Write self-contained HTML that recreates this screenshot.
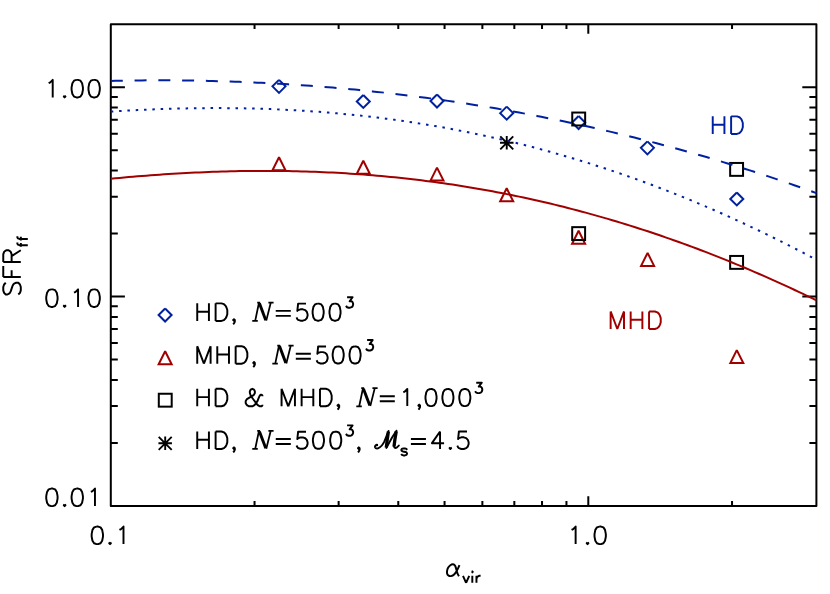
<!DOCTYPE html>
<html><head><meta charset="utf-8"><title>SFR vs alpha_vir</title>
<style>html,body{margin:0;padding:0;background:#fff;font-family:"Liberation Sans",sans-serif;}svg{display:block}</style>
</head><body>
<svg width="830" height="594" viewBox="0 0 830 594">
<rect width="830" height="594" fill="#fff"/>
<rect x="110.80" y="24.20" width="705.60" height="481.70" fill="none" stroke="#000" stroke-width="2" stroke-linejoin="round"/>
<path d="M254.54 505.90 V501.10 M254.54 24.20 V29.00 M338.63 505.90 V501.10 M338.63 24.20 V29.00 M398.28 505.90 V501.10 M398.28 24.20 V29.00 M444.56 505.90 V501.10 M444.56 24.20 V29.00 M482.37 505.90 V501.10 M482.37 24.20 V29.00 M514.33 505.90 V501.10 M514.33 24.20 V29.00 M542.03 505.90 V501.10 M542.03 24.20 V29.00 M566.45 505.90 V501.10 M566.45 24.20 V29.00 M588.30 505.90 V496.30 M588.30 24.20 V33.80 M732.04 505.90 V501.10 M732.04 24.20 V29.00 M110.80 442.89 H117.80 M816.40 442.89 H809.40 M110.80 406.04 H117.80 M816.40 406.04 H809.40 M110.80 379.89 H117.80 M816.40 379.89 H809.40 M110.80 359.61 H117.80 M816.40 359.61 H809.40 M110.80 343.03 H117.80 M816.40 343.03 H809.40 M110.80 329.02 H117.80 M816.40 329.02 H809.40 M110.80 316.88 H117.80 M816.40 316.88 H809.40 M110.80 306.18 H117.80 M816.40 306.18 H809.40 M110.80 296.60 H124.90 M816.40 296.60 H802.30 M110.80 233.59 H117.80 M816.40 233.59 H809.40 M110.80 196.74 H117.80 M816.40 196.74 H809.40 M110.80 170.59 H117.80 M816.40 170.59 H809.40 M110.80 150.31 H117.80 M816.40 150.31 H809.40 M110.80 133.73 H117.80 M816.40 133.73 H809.40 M110.80 119.72 H117.80 M816.40 119.72 H809.40 M110.80 107.58 H117.80 M816.40 107.58 H809.40 M110.80 96.88 H117.80 M816.40 96.88 H809.40 M110.80 87.30 H124.90 M816.40 87.30 H802.30" fill="none" stroke="#000" stroke-width="2"/>
<path d="M272.50 170.30 L279.00 157.30 L285.50 170.30 Z" fill="none" stroke="#a00000" stroke-width="2" stroke-linejoin="miter" stroke-miterlimit="2"/>
<path d="M356.80 173.70 L363.30 160.70 L369.80 173.70 Z" fill="none" stroke="#a00000" stroke-width="2" stroke-linejoin="miter" stroke-miterlimit="2"/>
<path d="M430.50 180.60 L437.00 167.60 L443.50 180.60 Z" fill="none" stroke="#a00000" stroke-width="2" stroke-linejoin="miter" stroke-miterlimit="2"/>
<path d="M500.20 201.30 L506.70 188.30 L513.20 201.30 Z" fill="none" stroke="#a00000" stroke-width="2" stroke-linejoin="miter" stroke-miterlimit="2"/>
<path d="M572.10 243.70 L578.60 230.70 L585.10 243.70 Z" fill="none" stroke="#a00000" stroke-width="2" stroke-linejoin="miter" stroke-miterlimit="2"/>
<path d="M641.10 265.90 L647.60 252.90 L654.10 265.90 Z" fill="none" stroke="#a00000" stroke-width="2" stroke-linejoin="miter" stroke-miterlimit="2"/>
<path d="M730.30 363.10 L736.80 350.10 L743.30 363.10 Z" fill="none" stroke="#a00000" stroke-width="2" stroke-linejoin="miter" stroke-miterlimit="2"/>
<path d="M279.00 79.85 L285.50 86.35 L279.00 92.85 L272.50 86.35 L279.00 79.85" fill="none" stroke="#0020a0" stroke-width="2" stroke-linejoin="miter"/>
<path d="M363.30 94.95 L369.80 101.45 L363.30 107.95 L356.80 101.45 L363.30 94.95" fill="none" stroke="#0020a0" stroke-width="2" stroke-linejoin="miter"/>
<path d="M437.00 94.55 L443.50 101.05 L437.00 107.55 L430.50 101.05 L437.00 94.55" fill="none" stroke="#0020a0" stroke-width="2" stroke-linejoin="miter"/>
<path d="M506.70 106.65 L513.20 113.15 L506.70 119.65 L500.20 113.15 L506.70 106.65" fill="none" stroke="#0020a0" stroke-width="2" stroke-linejoin="miter"/>
<path d="M578.60 116.05 L585.10 122.55 L578.60 129.05 L572.10 122.55 L578.60 116.05" fill="none" stroke="#0020a0" stroke-width="2" stroke-linejoin="miter"/>
<path d="M647.40 141.35 L653.90 147.85 L647.40 154.35 L640.90 147.85 L647.40 141.35" fill="none" stroke="#0020a0" stroke-width="2" stroke-linejoin="miter"/>
<path d="M736.80 192.45 L743.30 198.95 L736.80 205.45 L730.30 198.95 L736.80 192.45" fill="none" stroke="#0020a0" stroke-width="2" stroke-linejoin="miter"/>
<rect x="572.25" y="112.55" width="12.90" height="12.90" fill="none" stroke="#000" stroke-width="2"/>
<rect x="730.15" y="162.95" width="12.90" height="12.90" fill="none" stroke="#000" stroke-width="2"/>
<rect x="572.20" y="227.15" width="12.90" height="12.90" fill="none" stroke="#000" stroke-width="2"/>
<rect x="730.15" y="255.95" width="12.90" height="12.90" fill="none" stroke="#000" stroke-width="2"/>
<path d="M500.00 142.80 H513.50 M506.75 136.05 V149.55 M500.25 136.30 L513.25 149.30 M500.25 149.30 L513.25 136.30" fill="none" stroke="#000" stroke-width="1.9"/>
<path d="M110.80 80.89 L115.24 80.79 L119.68 80.70 L124.11 80.62 L128.55 80.56 L132.99 80.50 L137.43 80.45 L141.86 80.40 L146.30 80.37 L150.74 80.35 L155.18 80.34 L159.62 80.33 L164.05 80.34 L168.49 80.35 L172.93 80.37 L177.37 80.41 L181.80 80.45 L186.24 80.50 L190.68 80.56 L195.12 80.63 L199.55 80.72 L203.99 80.80 L208.43 80.90 L212.87 81.01 L217.31 81.13 L221.74 81.26 L226.18 81.40 L230.62 81.54 L235.06 81.70 L239.49 81.87 L243.93 82.04 L248.37 82.23 L252.81 82.42 L257.25 82.63 L261.68 82.84 L266.12 83.07 L270.56 83.30 L275.00 83.54 L279.43 83.80 L283.87 84.06 L288.31 84.33 L292.75 84.62 L297.18 84.91 L301.62 85.21 L306.06 85.53 L310.50 85.85 L314.94 86.18 L319.37 86.52 L323.81 86.88 L328.25 87.24 L332.69 87.61 L337.12 87.99 L341.56 88.38 L346.00 88.79 L350.44 89.20 L354.88 89.62 L359.31 90.06 L363.75 90.50 L368.19 90.95 L372.63 91.41 L377.06 91.89 L381.50 92.37 L385.94 92.87 L390.38 93.37 L394.82 93.88 L399.25 94.41 L403.69 94.94 L408.13 95.49 L412.57 96.04 L417.00 96.61 L421.44 97.19 L425.88 97.77 L430.32 98.37 L434.75 98.98 L439.19 99.60 L443.63 100.23 L448.07 100.87 L452.51 101.52 L456.94 102.18 L461.38 102.85 L465.82 103.53 L470.26 104.22 L474.69 104.93 L479.13 105.64 L483.57 106.36 L488.01 107.10 L492.45 107.85 L496.88 108.60 L501.32 109.37 L505.76 110.15 L510.20 110.94 L514.63 111.74 L519.07 112.55 L523.51 113.37 L527.95 114.21 L532.38 115.05 L536.82 115.91 L541.26 116.77 L545.70 117.65 L550.14 118.54 L554.57 119.44 L559.01 120.35 L563.45 121.27 L567.89 122.20 L572.32 123.15 L576.76 124.10 L581.20 125.07 L585.64 126.05 L590.08 127.03 L594.51 128.03 L598.95 129.05 L603.39 130.07 L607.83 131.10 L612.26 132.15 L616.70 133.21 L621.14 134.28 L625.58 135.36 L630.02 136.45 L634.45 137.55 L638.89 138.67 L643.33 139.80 L647.77 140.93 L652.20 142.08 L656.64 143.25 L661.08 144.42 L665.52 145.60 L669.95 146.80 L674.39 148.01 L678.83 149.23 L683.27 150.46 L687.71 151.71 L692.14 152.96 L696.58 154.23 L701.02 155.51 L705.46 156.80 L709.89 158.11 L714.33 159.43 L718.77 160.75 L723.21 162.09 L727.65 163.45 L732.08 164.81 L736.52 166.19 L740.96 167.58 L745.40 168.98 L749.83 170.39 L754.27 171.82 L758.71 173.26 L763.15 174.71 L767.58 176.17 L772.02 177.65 L776.46 179.14 L780.90 180.64 L785.34 182.15 L789.77 183.67 L794.21 185.21 L798.65 186.76 L803.09 188.33 L807.52 189.90 L811.96 191.49 L816.40 193.09" fill="none" stroke="#0020a0" stroke-width="2.00" stroke-dasharray="12 11.77"/>
<path d="M110.80 111.60 L115.24 111.32 L119.68 111.05 L124.11 110.79 L128.55 110.55 L132.99 110.31 L137.43 110.09 L141.86 109.87 L146.30 109.67 L150.74 109.48 L155.18 109.30 L159.62 109.13 L164.05 108.98 L168.49 108.84 L172.93 108.70 L177.37 108.59 L181.80 108.48 L186.24 108.39 L190.68 108.30 L195.12 108.24 L199.55 108.18 L203.99 108.14 L208.43 108.11 L212.87 108.09 L217.31 108.09 L221.74 108.10 L226.18 108.12 L230.62 108.15 L235.06 108.20 L239.49 108.27 L243.93 108.35 L248.37 108.44 L252.81 108.54 L257.25 108.66 L261.68 108.80 L266.12 108.94 L270.56 109.11 L275.00 109.28 L279.43 109.48 L283.87 109.68 L288.31 109.90 L292.75 110.14 L297.18 110.39 L301.62 110.66 L306.06 110.94 L310.50 111.23 L314.94 111.54 L319.37 111.87 L323.81 112.21 L328.25 112.57 L332.69 112.94 L337.12 113.33 L341.56 113.74 L346.00 114.16 L350.44 114.60 L354.88 115.05 L359.31 115.52 L363.75 116.00 L368.19 116.50 L372.63 117.02 L377.06 117.55 L381.50 118.11 L385.94 118.67 L390.38 119.26 L394.82 119.86 L399.25 120.47 L403.69 121.11 L408.13 121.76 L412.57 122.42 L417.00 123.11 L421.44 123.81 L425.88 124.53 L430.32 125.26 L434.75 126.02 L439.19 126.79 L443.63 127.57 L448.07 128.38 L452.51 129.20 L456.94 130.04 L461.38 130.90 L465.82 131.77 L470.26 132.67 L474.69 133.58 L479.13 134.51 L483.57 135.45 L488.01 136.42 L492.45 137.40 L496.88 138.40 L501.32 139.42 L505.76 140.45 L510.20 141.51 L514.63 142.58 L519.07 143.67 L523.51 144.78 L527.95 145.91 L532.38 147.06 L536.82 148.22 L541.26 149.40 L545.70 150.60 L550.14 151.82 L554.57 153.06 L559.01 154.32 L563.45 155.59 L567.89 156.89 L572.32 158.20 L576.76 159.53 L581.20 160.88 L585.64 162.25 L590.08 163.64 L594.51 165.04 L598.95 166.47 L603.39 167.91 L607.83 169.38 L612.26 170.86 L616.70 172.36 L621.14 173.88 L625.58 175.42 L630.02 176.98 L634.45 178.56 L638.89 180.15 L643.33 181.77 L647.77 183.40 L652.20 185.06 L656.64 186.73 L661.08 188.42 L665.52 190.13 L669.95 191.86 L674.39 193.61 L678.83 195.38 L683.27 197.17 L687.71 198.97 L692.14 200.80 L696.58 202.65 L701.02 204.51 L705.46 206.40 L709.89 208.30 L714.33 210.22 L718.77 212.16 L723.21 214.13 L727.65 216.11 L732.08 218.11 L736.52 220.12 L740.96 222.16 L745.40 224.22 L749.83 226.30 L754.27 228.39 L758.71 230.51 L763.15 232.64 L767.58 234.80 L772.02 236.97 L776.46 239.16 L780.90 241.37 L785.34 243.61 L789.77 245.86 L794.21 248.13 L798.65 250.41 L803.09 252.72 L807.52 255.05 L811.96 257.39 L816.40 259.76" fill="none" stroke="#0020a0" stroke-width="2.00" stroke-dasharray="2.5 5.82"/>
<path d="M110.80 178.73 L115.24 178.31 L119.68 177.89 L124.11 177.49 L128.55 177.10 L132.99 176.71 L137.43 176.34 L141.86 175.98 L146.30 175.64 L150.74 175.30 L155.18 174.97 L159.62 174.66 L164.05 174.36 L168.49 174.07 L172.93 173.79 L177.37 173.52 L181.80 173.27 L186.24 173.03 L190.68 172.80 L195.12 172.58 L199.55 172.38 L203.99 172.19 L208.43 172.01 L212.87 171.84 L217.31 171.69 L221.74 171.55 L226.18 171.42 L230.62 171.31 L235.06 171.21 L239.49 171.12 L243.93 171.05 L248.37 170.99 L252.81 170.94 L257.25 170.91 L261.68 170.90 L266.12 170.89 L270.56 170.90 L275.00 170.93 L279.43 170.97 L283.87 171.02 L288.31 171.09 L292.75 171.18 L297.18 171.27 L301.62 171.39 L306.06 171.51 L310.50 171.66 L314.94 171.82 L319.37 171.99 L323.81 172.18 L328.25 172.38 L332.69 172.60 L337.12 172.83 L341.56 173.08 L346.00 173.35 L350.44 173.63 L354.88 173.93 L359.31 174.24 L363.75 174.57 L368.19 174.92 L372.63 175.28 L377.06 175.65 L381.50 176.05 L385.94 176.46 L390.38 176.88 L394.82 177.32 L399.25 177.78 L403.69 178.26 L408.13 178.75 L412.57 179.26 L417.00 179.79 L421.44 180.33 L425.88 180.89 L430.32 181.46 L434.75 182.06 L439.19 182.67 L443.63 183.29 L448.07 183.94 L452.51 184.60 L456.94 185.28 L461.38 185.97 L465.82 186.68 L470.26 187.42 L474.69 188.16 L479.13 188.93 L483.57 189.71 L488.01 190.51 L492.45 191.33 L496.88 192.17 L501.32 193.02 L505.76 193.89 L510.20 194.78 L514.63 195.69 L519.07 196.61 L523.51 197.55 L527.95 198.51 L532.38 199.49 L536.82 200.49 L541.26 201.50 L545.70 202.53 L550.14 203.58 L554.57 204.65 L559.01 205.74 L563.45 206.84 L567.89 207.97 L572.32 209.11 L576.76 210.27 L581.20 211.45 L585.64 212.64 L590.08 213.86 L594.51 215.09 L598.95 216.34 L603.39 217.61 L607.83 218.90 L612.26 220.21 L616.70 221.53 L621.14 222.87 L625.58 224.24 L630.02 225.62 L634.45 227.02 L638.89 228.43 L643.33 229.87 L647.77 231.32 L652.20 232.80 L656.64 234.29 L661.08 235.80 L665.52 237.33 L669.95 238.87 L674.39 240.44 L678.83 242.02 L683.27 243.63 L687.71 245.25 L692.14 246.89 L696.58 248.55 L701.02 250.23 L705.46 251.92 L709.89 253.64 L714.33 255.37 L718.77 257.12 L723.21 258.89 L727.65 260.68 L732.08 262.49 L736.52 264.31 L740.96 266.16 L745.40 268.02 L749.83 269.90 L754.27 271.80 L758.71 273.72 L763.15 275.66 L767.58 277.61 L772.02 279.59 L776.46 281.58 L780.90 283.59 L785.34 285.62 L789.77 287.67 L794.21 289.73 L798.65 291.82 L803.09 293.92 L807.52 296.04 L811.96 298.18 L816.40 300.34" fill="none" stroke="#a00000" stroke-width="2.00"/>
<path d="M165.10 308.55 L171.60 315.05 L165.10 321.55 L158.60 315.05 L165.10 308.55" fill="none" stroke="#0020a0" stroke-width="2" stroke-linejoin="miter"/>
<path d="M158.65 364.25 L165.15 351.25 L171.65 364.25 Z" fill="none" stroke="#a00000" stroke-width="2" stroke-linejoin="miter" stroke-miterlimit="2"/>
<rect x="158.80" y="393.75" width="12.90" height="12.90" fill="none" stroke="#000" stroke-width="2"/>
<path d="M158.45 443.30 H171.95 M165.20 436.55 V450.05 M158.70 436.80 L171.70 449.80 M158.70 449.80 L171.70 436.80" fill="none" stroke="#000" stroke-width="1.9"/>
<path d="M48.66 83.21 L50.28 82.37 L52.71 79.87 L52.71 97.40 M64.62 95.73 L63.79 96.57 L64.62 97.40 L65.46 96.57 L64.62 95.73 M76.44 79.87 L74.01 80.70 L72.39 83.21 L71.58 87.38 L71.58 89.89 L72.39 94.06 L74.01 96.57 L76.44 97.40 L78.06 97.40 L80.49 96.57 L82.11 94.06 L82.92 89.89 L82.92 87.38 L82.11 83.21 L80.49 80.70 L78.06 79.87 L76.44 79.87 M93.34 79.87 L90.91 80.70 L89.29 83.21 L88.48 87.38 L88.48 89.89 L89.29 94.06 L90.91 96.57 L93.34 97.40 L94.96 97.40 L97.39 96.57 L99.01 94.06 L99.82 89.89 L99.82 87.38 L99.01 83.21 L97.39 80.70 L94.96 79.87 L93.34 79.87" fill="none" stroke="#000" stroke-width="1.95" stroke-linecap="butt" stroke-linejoin="round"/>
<path d="M51.09 289.36 L48.66 290.20 L47.04 292.70 L46.23 296.88 L46.23 299.38 L47.04 303.56 L48.66 306.06 L51.09 306.90 L52.71 306.90 L55.14 306.06 L56.76 303.56 L57.57 299.38 L57.57 296.88 L56.76 292.70 L55.14 290.20 L52.71 289.36 L51.09 289.36 M64.62 305.23 L63.79 306.06 L64.62 306.90 L65.46 306.06 L64.62 305.23 M74.01 292.70 L75.63 291.87 L78.06 289.36 L78.06 306.90 M93.34 289.36 L90.91 290.20 L89.29 292.70 L88.48 296.88 L88.48 299.38 L89.29 303.56 L90.91 306.06 L93.34 306.90 L94.96 306.90 L97.39 306.06 L99.01 303.56 L99.82 299.38 L99.82 296.88 L99.01 292.70 L97.39 290.20 L94.96 289.36 L93.34 289.36" fill="none" stroke="#000" stroke-width="1.95" stroke-linecap="butt" stroke-linejoin="round"/>
<path d="M51.09 488.56 L48.66 489.40 L47.04 491.91 L46.23 496.08 L46.23 498.59 L47.04 502.76 L48.66 505.27 L51.09 506.10 L52.71 506.10 L55.14 505.27 L56.76 502.76 L57.57 498.59 L57.57 496.08 L56.76 491.91 L55.14 489.40 L52.71 488.56 L51.09 488.56 M64.62 504.43 L63.79 505.27 L64.62 506.10 L65.46 505.27 L64.62 504.43 M76.44 488.56 L74.01 489.40 L72.39 491.91 L71.58 496.08 L71.58 498.59 L72.39 502.76 L74.01 505.27 L76.44 506.10 L78.06 506.10 L80.49 505.27 L82.11 502.76 L82.92 498.59 L82.92 496.08 L82.11 491.91 L80.49 489.40 L78.06 488.56 L76.44 488.56 M90.91 491.91 L92.53 491.07 L94.96 488.56 L94.96 506.10" fill="none" stroke="#000" stroke-width="1.95" stroke-linecap="butt" stroke-linejoin="round"/>
<path d="M96.51 526.57 L94.08 527.40 L92.46 529.90 L91.65 534.08 L91.65 536.59 L92.46 540.76 L94.08 543.26 L96.51 544.10 L98.13 544.10 L100.56 543.26 L102.18 540.76 L102.99 536.59 L102.99 534.08 L102.18 529.90 L100.56 527.40 L98.13 526.57 L96.51 526.57 M110.05 542.43 L109.21 543.26 L110.05 544.10 L110.88 543.26 L110.05 542.43 M119.44 529.90 L121.06 529.07 L123.49 526.57 L123.49 544.10" fill="none" stroke="#000" stroke-width="1.95" stroke-linecap="butt" stroke-linejoin="round"/>
<path d="M571.58 529.90 L573.20 529.07 L575.63 526.57 L575.63 544.10 M587.55 542.43 L586.71 543.26 L587.55 544.10 L588.38 543.26 L587.55 542.43 M599.37 526.57 L596.94 527.40 L595.32 529.90 L594.51 534.08 L594.51 536.59 L595.32 540.76 L596.94 543.26 L599.37 544.10 L600.99 544.10 L603.41 543.26 L605.03 540.76 L605.84 536.59 L605.84 534.08 L605.03 529.90 L603.41 527.40 L600.99 526.57 L599.37 526.57" fill="none" stroke="#000" stroke-width="1.95" stroke-linecap="butt" stroke-linejoin="round"/>
<path d="M459.46 565.09 Q458.19 568.12 457.44 569.64 Q456.68 571.16 455.66 572.67 Q454.65 574.19 453.38 575.08 Q452.12 575.97 450.86 576.10 Q449.59 576.22 448.58 575.59 Q447.57 574.95 447.19 573.82 Q446.81 572.68 447.06 570.90 Q447.31 569.13 448.20 567.62 Q449.09 566.10 450.36 565.22 Q451.62 564.33 452.75 564.33 Q453.89 564.33 454.65 565.22 Q455.41 566.10 455.92 567.87 Q456.42 569.64 456.93 571.66 Q457.44 573.69 458.95 576.22" fill="none" stroke="#000" stroke-width="1.95" stroke-linejoin="round"/>
<path d="M463.00 575.84 L466.10 582.80 M469.21 575.84 L466.10 582.80 M471.80 571.87 L472.31 572.36 L472.83 571.87 L472.31 571.37 L471.80 571.87 M472.31 575.84 L472.31 582.80 M476.46 575.84 L476.46 582.80 M476.46 578.82 L476.97 577.33 L478.01 576.34 L479.04 575.84 L480.60 575.84" fill="none" stroke="#000" stroke-width="1.95" stroke-linecap="butt" stroke-linejoin="round"/>
<g transform="translate(20.8 297.00) rotate(-90)"><path d="M14.20 -15.03 L12.52 -16.70 L10.02 -17.54 L6.68 -17.54 L4.17 -16.70 L2.50 -15.03 L2.50 -13.36 L3.34 -11.69 L4.17 -10.86 L5.84 -10.02 L10.86 -8.35 L12.52 -7.51 L13.36 -6.68 L14.20 -5.01 L14.20 -2.50 L12.52 -0.83 L10.02 0.00 L6.68 0.00 L4.17 -0.83 L2.50 -2.50 M20.04 -17.54 L20.04 0.00 M20.04 -17.54 L30.89 -17.54 M20.04 -9.18 L26.72 -9.18 M35.07 -17.54 L35.07 0.00 M35.07 -17.54 L42.58 -17.54 L45.09 -16.70 L45.92 -15.86 L46.76 -14.20 L46.76 -12.52 L45.92 -10.86 L45.09 -10.02 L42.58 -9.18 L35.07 -9.18 M40.91 -9.18 L46.76 0.00 M54.44 -3.44 L53.41 -3.44 L52.37 -2.94 L51.85 -1.45 L51.85 7.00 M50.30 0.04 L53.92 0.04 M60.65 -3.44 L59.62 -3.44 L58.58 -2.94 L58.07 -1.45 L58.07 7.00 M56.51 0.04 L60.14 0.04" fill="none" stroke="#000" stroke-width="1.95" stroke-linecap="butt" stroke-linejoin="round"/></g>
<path d="M712.74 116.37 L712.74 133.90 M724.43 116.37 L724.43 133.90 M712.74 124.72 L724.43 124.72 M731.11 116.37 L731.11 133.90 M731.11 116.37 L736.95 116.37 L739.46 117.20 L741.13 118.87 L741.97 120.54 L742.80 123.05 L742.80 127.22 L741.97 129.72 L741.13 131.40 L739.46 133.06 L736.95 133.90 L731.11 133.90" fill="none" stroke="#0020a0" stroke-width="1.95" stroke-linecap="butt" stroke-linejoin="round"/>
<path d="M610.64 311.46 L610.64 329.00 M610.64 311.46 L617.32 329.00 M624.00 311.46 L617.32 329.00 M624.00 311.46 L624.00 329.00 M630.68 311.46 L630.68 329.00 M642.37 311.46 L642.37 329.00 M630.68 319.81 L642.37 319.81 M649.05 311.46 L649.05 329.00 M649.05 311.46 L654.89 311.46 L657.40 312.30 L659.07 313.97 L659.90 315.64 L660.74 318.14 L660.74 322.32 L659.90 324.82 L659.07 326.50 L657.40 328.17 L654.89 329.00 L649.05 329.00" fill="none" stroke="#a00000" stroke-width="1.95" stroke-linecap="butt" stroke-linejoin="round"/>
<path d="M197.24 303.36 L197.24 320.90 M208.93 303.36 L208.93 320.90 M197.24 311.71 L208.93 311.71 M215.61 303.36 L215.61 320.90 M215.61 303.36 L221.46 303.36 L223.96 304.20 L225.63 305.87 L226.47 307.54 L227.30 310.04 L227.30 314.22 L226.47 316.72 L225.63 318.39 L223.96 320.06 L221.46 320.90 L215.61 320.90 M234.81 320.06 L233.98 320.90 L233.15 320.06 L233.98 319.23 L234.81 320.06 L234.81 321.73 L233.98 323.40 L233.15 324.24" fill="none" stroke="#000" stroke-width="1.95" stroke-linecap="butt" stroke-linejoin="round"/>
<path d="M252.26 320.88 L257.79 320.88 M255.19 320.88 L258.96 302.72 M257.21 302.72 L260.12 302.72 M266.27 320.64 L270.75 302.72 M268.39 302.72 L273.58 302.72" fill="none" stroke="#000" stroke-width="1.75"/><path d="M259.42 303.30 L265.76 320.20" fill="none" stroke="#000" stroke-width="2.9"/>
<path d="M275.75 310.88 L290.79 310.88 M275.75 315.89 L290.79 315.89 M306.01 303.60 L298.12 303.60 L297.33 310.93 L298.12 310.12 L300.49 309.30 L302.86 309.30 L305.23 310.12 L306.80 311.74 L307.59 314.19 L307.59 315.82 L306.80 318.26 L305.23 319.89 L302.86 320.70 L300.49 320.70 L298.12 319.89 L297.33 319.07 L296.54 317.44 M317.35 303.60 L314.99 304.42 L313.41 306.86 L312.62 310.93 L312.62 313.37 L313.41 317.44 L314.99 319.89 L317.35 320.70 L318.93 320.70 L321.30 319.89 L322.88 317.44 L323.67 313.37 L323.67 310.93 L322.88 306.86 L321.30 304.42 L318.93 303.60 L317.35 303.60 M334.23 303.60 L331.86 304.42 L330.28 306.86 L329.49 310.93 L329.49 313.37 L330.28 317.44 L331.86 319.89 L334.23 320.70 L335.81 320.70 L338.18 319.89 L339.76 317.44 L340.55 313.37 L340.55 310.93 L339.76 306.86 L338.18 304.42 L335.81 303.60 L334.23 303.60 M347.08 297.26 L352.61 297.26 L349.60 301.24 L351.10 301.24 L352.11 301.74 L352.61 302.23 L353.11 303.72 L353.11 304.72 L352.61 306.21 L351.60 307.20 L350.10 307.70 L348.59 307.70 L347.08 307.20 L346.58 306.71 L346.08 305.71" fill="none" stroke="#000" stroke-width="1.95" stroke-linecap="butt" stroke-linejoin="round"/>
<path d="M197.24 346.16 L197.24 363.70 M197.24 346.16 L203.92 363.70 M210.60 346.16 L203.92 363.70 M210.60 346.16 L210.60 363.70 M217.28 346.16 L217.28 363.70 M228.97 346.16 L228.97 363.70 M217.28 354.51 L228.97 354.51 M235.65 346.16 L235.65 363.70 M235.65 346.16 L241.50 346.16 L244.00 347.00 L245.67 348.67 L246.50 350.34 L247.34 352.84 L247.34 357.02 L246.50 359.52 L245.67 361.19 L244.00 362.87 L241.50 363.70 L235.65 363.70 M254.85 362.87 L254.02 363.70 L253.19 362.87 L254.02 362.03 L254.85 362.87 L254.85 364.53 L254.02 366.20 L253.19 367.04" fill="none" stroke="#000" stroke-width="1.95" stroke-linecap="butt" stroke-linejoin="round"/>
<path d="M272.31 363.68 L277.83 363.68 M275.24 363.68 L279.00 345.52 M277.25 345.52 L280.16 345.52 M286.31 363.44 L290.80 345.52 M288.44 345.52 L293.62 345.52" fill="none" stroke="#000" stroke-width="1.75"/><path d="M279.46 346.10 L285.81 363.00" fill="none" stroke="#000" stroke-width="2.9"/>
<path d="M295.80 353.68 L310.83 353.68 M295.80 358.69 L310.83 358.69 M326.05 346.40 L318.16 346.40 L317.37 353.73 L318.16 352.92 L320.53 352.10 L322.90 352.10 L325.27 352.92 L326.84 354.54 L327.63 356.99 L327.63 358.62 L326.84 361.06 L325.27 362.69 L322.90 363.50 L320.53 363.50 L318.16 362.69 L317.37 361.87 L316.58 360.24 M337.39 346.40 L335.03 347.22 L333.45 349.66 L332.66 353.73 L332.66 356.17 L333.45 360.24 L335.03 362.69 L337.39 363.50 L338.97 363.50 L341.34 362.69 L342.92 360.24 L343.71 356.17 L343.71 353.73 L342.92 349.66 L341.34 347.22 L338.97 346.40 L337.39 346.40 M354.27 346.40 L351.90 347.22 L350.32 349.66 L349.53 353.73 L349.53 356.17 L350.32 360.24 L351.90 362.69 L354.27 363.50 L355.85 363.50 L358.22 362.69 L359.80 360.24 L360.59 356.17 L360.59 353.73 L359.80 349.66 L358.22 347.22 L355.85 346.40 L354.27 346.40 M367.12 340.06 L372.65 340.06 L369.64 344.04 L371.14 344.04 L372.15 344.54 L372.65 345.03 L373.15 346.52 L373.15 347.52 L372.65 349.01 L371.64 350.00 L370.14 350.50 L368.63 350.50 L367.12 350.00 L366.62 349.51 L366.12 348.51" fill="none" stroke="#000" stroke-width="1.95" stroke-linecap="butt" stroke-linejoin="round"/>
<path d="M197.24 388.76 L197.24 406.30 M208.93 388.76 L208.93 406.30 M197.24 397.12 L208.93 397.12 M215.61 388.76 L215.61 406.30 M215.61 388.76 L221.46 388.76 L223.96 389.60 L225.63 391.27 L226.47 392.94 L227.30 395.44 L227.30 399.62 L226.47 402.12 L225.63 403.80 L223.96 405.47 L221.46 406.30 L215.61 406.30 M262.37 396.28 L262.37 395.44 L261.54 394.61 L260.70 394.61 L259.87 395.44 L259.03 397.12 L257.36 401.29 L255.69 403.80 L254.02 405.47 L252.35 406.30 L249.01 406.30 L247.34 405.47 L246.51 404.63 L245.67 402.96 L245.67 401.29 L246.51 399.62 L247.34 398.79 L253.19 395.44 L254.02 394.61 L254.86 392.94 L254.86 391.27 L254.02 389.60 L252.35 388.76 L250.68 389.60 L249.85 391.27 L249.85 392.94 L250.68 395.44 L252.35 397.95 L256.53 403.80 L258.19 405.47 L259.87 406.30 L261.54 406.30 L262.37 405.47 L262.37 404.63 M281.57 388.76 L281.57 406.30 M281.57 388.76 L288.25 406.30 M294.94 388.76 L288.25 406.30 M294.94 388.76 L294.94 406.30 M301.62 388.76 L301.62 406.30 M313.31 388.76 L313.31 406.30 M301.62 397.12 L313.31 397.12 M319.99 388.76 L319.99 406.30 M319.99 388.76 L325.83 388.76 L328.34 389.60 L330.01 391.27 L330.84 392.94 L331.68 395.44 L331.68 399.62 L330.84 402.12 L330.01 403.80 L328.34 405.47 L325.83 406.30 L319.99 406.30 M339.19 405.47 L338.36 406.30 L337.52 405.47 L338.36 404.63 L339.19 405.47 L339.19 407.13 L338.36 408.81 L337.52 409.64" fill="none" stroke="#000" stroke-width="1.95" stroke-linecap="butt" stroke-linejoin="round"/>
<path d="M356.29 406.28 L361.81 406.28 M359.22 406.28 L362.99 388.12 M361.24 388.12 L364.14 388.12 M370.30 406.04 L374.78 388.12 M372.42 388.12 L377.61 388.12" fill="none" stroke="#000" stroke-width="1.75"/><path d="M363.44 388.70 L369.79 405.60" fill="none" stroke="#000" stroke-width="2.9"/>
<path d="M379.78 396.28 L394.81 396.28 M379.78 401.29 L394.81 401.29 M403.33 392.26 L404.91 391.45 L407.28 389.00 L407.28 406.10 M420.04 405.47 L419.20 406.30 L418.37 405.47 L419.20 404.63 L420.04 405.47 L420.04 407.13 L419.20 408.81 L418.37 409.64 M430.23 389.00 L427.86 389.82 L426.28 392.26 L425.49 396.33 L425.49 398.77 L426.28 402.84 L427.86 405.29 L430.23 406.10 L431.81 406.10 L434.18 405.29 L435.76 402.84 L436.55 398.77 L436.55 396.33 L435.76 392.26 L434.18 389.82 L431.81 389.00 L430.23 389.00 M447.13 389.00 L444.76 389.82 L443.18 392.26 L442.39 396.33 L442.39 398.77 L443.18 402.84 L444.76 405.29 L447.13 406.10 L448.71 406.10 L451.08 405.29 L452.66 402.84 L453.44 398.77 L453.44 396.33 L452.66 392.26 L451.08 389.82 L448.71 389.00 L447.13 389.00 M464.03 389.00 L461.66 389.82 L460.08 392.26 L459.29 396.33 L459.29 398.77 L460.08 402.84 L461.66 405.29 L464.03 406.10 L465.60 406.10 L467.97 405.29 L469.55 402.84 L470.34 398.77 L470.34 396.33 L469.55 392.26 L467.97 389.82 L465.60 389.00 L464.03 389.00 M476.24 382.66 L481.76 382.66 L478.75 386.64 L480.26 386.64 L481.26 387.14 L481.76 387.63 L482.26 389.12 L482.26 390.12 L481.76 391.61 L480.76 392.60 L479.25 393.10 L477.74 393.10 L476.24 392.60 L475.74 392.11 L475.23 391.11" fill="none" stroke="#000" stroke-width="1.95" stroke-linecap="butt" stroke-linejoin="round"/>
<path d="M197.24 431.46 L197.24 449.00 M208.93 431.46 L208.93 449.00 M197.24 439.81 L208.93 439.81 M215.61 431.46 L215.61 449.00 M215.61 431.46 L221.46 431.46 L223.96 432.30 L225.63 433.97 L226.47 435.64 L227.30 438.14 L227.30 442.32 L226.47 444.82 L225.63 446.50 L223.96 448.17 L221.46 449.00 L215.61 449.00 M234.81 448.17 L233.98 449.00 L233.15 448.17 L233.98 447.33 L234.81 448.17 L234.81 449.83 L233.98 451.50 L233.15 452.34" fill="none" stroke="#000" stroke-width="1.95" stroke-linecap="butt" stroke-linejoin="round"/>
<path d="M252.26 448.98 L257.79 448.98 M255.19 448.98 L258.96 430.82 M257.21 430.82 L260.12 430.82 M266.27 448.74 L270.75 430.82 M268.39 430.82 L273.58 430.82" fill="none" stroke="#000" stroke-width="1.75"/><path d="M259.42 431.40 L265.76 448.30" fill="none" stroke="#000" stroke-width="2.9"/>
<path d="M275.75 438.98 L290.79 438.98 M275.75 443.99 L290.79 443.99 M306.01 431.70 L298.12 431.70 L297.33 439.03 L298.12 438.22 L300.49 437.40 L302.86 437.40 L305.23 438.22 L306.80 439.84 L307.59 442.29 L307.59 443.92 L306.80 446.36 L305.23 447.99 L302.86 448.80 L300.49 448.80 L298.12 447.99 L297.33 447.17 L296.54 445.54 M317.65 431.70 L315.29 432.52 L313.71 434.96 L312.92 439.03 L312.92 441.47 L313.71 445.54 L315.29 447.99 L317.65 448.80 L319.23 448.80 L321.60 447.99 L323.18 445.54 L323.97 441.47 L323.97 439.03 L323.18 434.96 L321.60 432.52 L319.23 431.70 L317.65 431.70 M334.93 431.70 L332.56 432.52 L330.98 434.96 L330.19 439.03 L330.19 441.47 L330.98 445.54 L332.56 447.99 L334.93 448.80 L336.51 448.80 L338.88 447.99 L340.46 445.54 L341.25 441.47 L341.25 439.03 L340.46 434.96 L338.88 432.52 L336.51 431.70 L334.93 431.70 M347.08 425.36 L352.61 425.36 L349.60 429.34 L351.10 429.34 L352.11 429.84 L352.61 430.33 L353.11 431.82 L353.11 432.82 L352.61 434.31 L351.60 435.30 L350.10 435.80 L348.59 435.80 L347.08 435.30 L346.58 434.81 L346.08 433.81 M359.61 448.17 L358.77 449.00 L357.94 448.17 L358.77 447.33 L359.61 448.17 L359.61 449.83 L358.77 451.50 L357.94 452.34" fill="none" stroke="#000" stroke-width="1.95" stroke-linecap="butt" stroke-linejoin="round"/>
<path d="M376.90 444.90 Q374.70 445.60 375.00 447.20 Q375.60 448.90 378.00 448.40 Q381.90 446.80 384.40 441.40 L388.58 430.97 M386.40 447.90 Q388.40 444.20 392.22 437.33 L396.46 430.67 M394.00 446.60 Q394.60 448.60 396.60 447.60 Q397.80 446.90 398.90 445.50" fill="none" stroke="#000" stroke-width="1.9" stroke-linecap="round" stroke-linejoin="round"/><path d="M388.40 431.40 Q387.20 439.20 386.30 447.60 M396.30 431.20 Q394.80 439.00 394.00 446.60" fill="none" stroke="#000" stroke-width="3.3" stroke-linecap="butt"/><circle cx="376.85" cy="445.00" r="1.35" fill="#000"/>
<path d="M407.00 449.93 L406.48 448.94 L404.93 448.44 L403.37 448.44 L401.82 448.94 L401.30 449.93 L401.82 450.93 L402.86 451.42 L405.44 451.92 L406.48 452.42 L407.00 453.41 L407.00 453.91 L406.48 454.90 L404.93 455.40 L403.37 455.40 L401.82 454.90 L401.30 453.91" fill="none" stroke="#000" stroke-width="1.95" stroke-linecap="butt" stroke-linejoin="round"/>
<path d="M410.90 438.98 L425.93 438.98 M410.90 443.99 L425.93 443.99 M440.05 431.46 L431.95 443.15 L444.10 443.15 M440.05 431.46 L440.05 449.00 M450.35 447.33 L449.51 448.17 L450.35 449.00 L451.18 448.17 L450.35 447.33 M467.02 431.46 L458.92 431.46 L458.11 438.98 L458.92 438.14 L461.35 437.31 L463.78 437.31 L466.21 438.14 L467.83 439.81 L468.64 442.32 L468.64 443.99 L467.83 446.50 L466.21 448.17 L463.78 449.00 L461.35 449.00 L458.92 448.17 L458.11 447.33 L457.30 445.66" fill="none" stroke="#000" stroke-width="1.95" stroke-linecap="butt" stroke-linejoin="round"/>
</svg>
</body></html>
